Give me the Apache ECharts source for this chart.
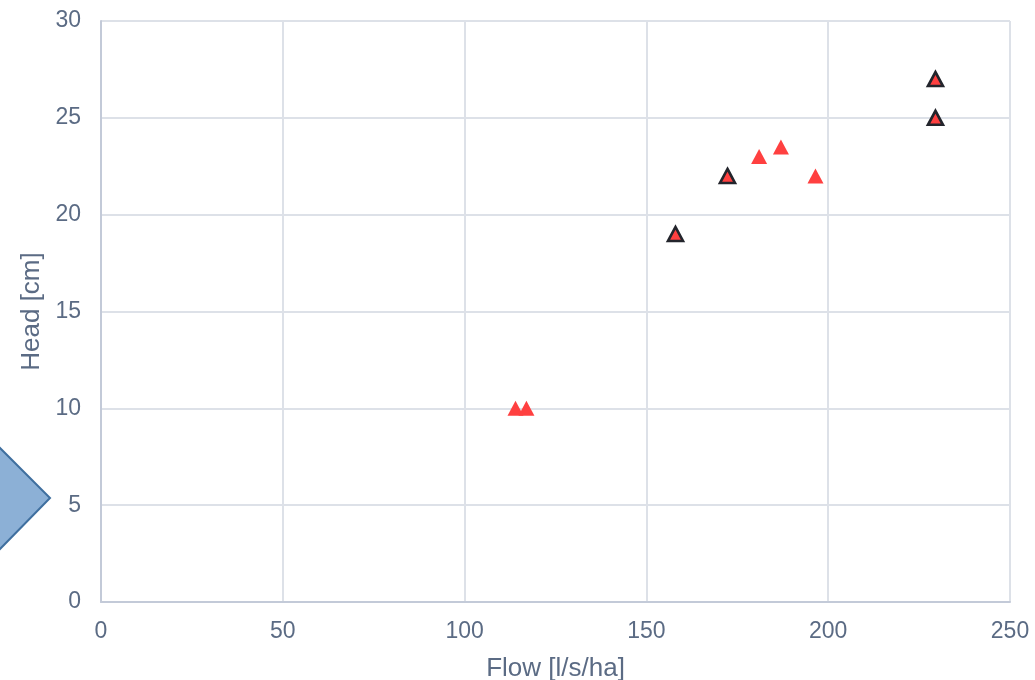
<!DOCTYPE html>
<html><head><meta charset="utf-8">
<script src="https://cdn.jsdelivr.net/npm/echarts@6/dist/echarts.min.js"></script>
<style>html,body{margin:0;padding:0;background:#fff}#c{width:1035px;height:680px}</style>
</head><body><div id="c"></div>
<script>
var redX = [114, 117, 181, 187, 196.5];
var redY = [10, 10, 23, 23.5, 22];
var outlinedX = [158, 172.3, 229.5, 229.5];
var outlinedY = [19, 22, 27, 25];
var xTicks = [0, 50, 100, 150, 200, 250];
var yTicks = [0, 5, 10, 15, 20, 25, 30];

function pairs(xs, ys) { return xs.map(function (x, i) { return [x, ys[i]]; }); }

var textColor = '#5b6b84';
var ff = 'Liberation Sans, Arial, sans-serif';
var chart = echarts.init(document.getElementById('c'), null, {renderer: 'canvas'});
chart.setOption({
  animation: false,
  grid: {left: 101, right: 25, top: 21, bottom: 78, containLabel: false, outerBoundsMode: 'none'},
  xAxis: {
    type: 'value', min: xTicks[0], max: xTicks[xTicks.length - 1], interval: 50,
    name: 'Flow [l/s/ha]', nameLocation: 'middle', nameGap: 54,
    nameTextStyle: {color: textColor, fontSize: 26, fontFamily: ff},
    axisLine: {show: true, lineStyle: {color: '#c3cad8', width: 2}},
    axisTick: {show: false},
    axisLabel: {color: textColor, fontSize: 23, margin: 18, fontFamily: ff},
    splitLine: {show: true, lineStyle: {color: '#dde1e8', width: 2}}
  },
  yAxis: {
    type: 'value', min: yTicks[0], max: yTicks[yTicks.length - 1], interval: 5,
    name: 'Head [cm]', nameLocation: 'middle', nameGap: 55,
    nameTextStyle: {color: textColor, fontSize: 26, fontFamily: ff},
    axisLine: {show: true, lineStyle: {color: '#c3cad8', width: 2}},
    axisTick: {show: false},
    axisLabel: {color: textColor, fontSize: 23, margin: 20, fontFamily: ff},
    splitLine: {show: true, lineStyle: {color: '#dde1e8', width: 2}}
  },
  series: [
    {
      type: 'scatter', symbol: 'triangle', symbolSize: [16, 15],
      itemStyle: {color: '#ff4040', opacity: 1},
      data: pairs(redX, redY)
    },
    {
      type: 'scatter', symbol: 'triangle', symbolSize: [15, 14],
      itemStyle: {color: '#ff4040', borderColor: '#23252c', borderWidth: 2.6, opacity: 1},
      data: pairs(outlinedX, outlinedY)
    }
  ],
  graphic: [{
    type: 'polygon', z: 100,
    shape: {points: [[-100, 447], [-1, 447], [50, 498], [-1, 550], [-100, 550]]},
    style: {fill: '#8cb0d6', stroke: '#3f6f9f', lineWidth: 2}
  }]
});
</script></body></html>
